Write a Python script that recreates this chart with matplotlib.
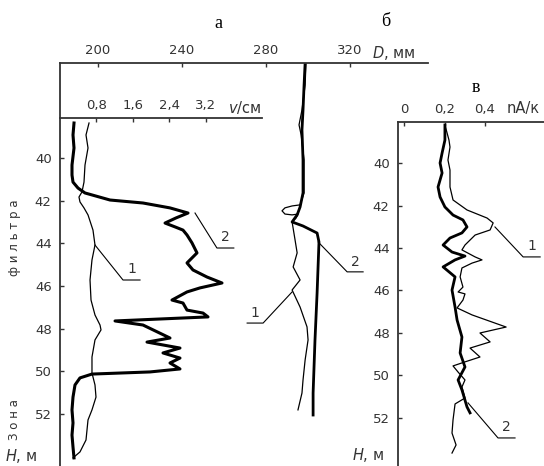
import numpy as np
import matplotlib
matplotlib.use("Agg")
import matplotlib.pyplot as plt

plt.rcParams['font.family'] = ['DejaVu Sans']

W, H = 544, 466

# ---- panel а : flow velocity v (thin = 1, thick = 2) ----
a1_v = [0.636, 0.570, 0.614, 0.548, 0.526, 0.482, 0.416, 0.438, 0.526, 0.614, 0.723, 0.767,
        0.701, 0.658, 0.680, 0.767, 0.877, 0.899, 0.767, 0.701, 0.701, 0.767, 0.789, 0.701,
        0.614, 0.570, 0.438, 0.285]
a1_h = [38.36, 38.92, 39.53, 40.33, 41.13, 41.59, 41.83, 42.06, 42.34, 42.67, 43.38, 44.08,
        44.78, 45.72, 46.66, 47.36, 47.83, 48.06, 48.53, 49.33, 50.08, 50.64, 51.21, 51.81,
        52.28, 53.22, 53.78, 54.06]
a2_v = [0.307, 0.285, 0.307, 0.263, 0.263, 0.285, 0.395, 0.548, 1.096, 1.819, 2.411, 2.806,
        2.543, 2.302, 2.521, 2.696, 2.784, 2.893, 3.003, 2.784, 2.915, 3.222, 3.551, 3.069,
        2.784, 2.455, 2.696, 2.784, 3.135, 3.244, 1.206, 1.819, 2.411, 1.907, 2.630, 2.258,
        2.630, 2.411, 2.630, 1.973, 0.701, 0.438, 0.329, 0.285, 0.263, 0.285, 0.263, 0.285, 0.307]
a2_h = [38.36, 38.92, 39.53, 40.33, 40.80, 41.13, 41.41, 41.64, 41.97, 42.11, 42.34, 42.58,
        42.81, 43.05, 43.23, 43.38, 43.61, 43.98, 44.45, 44.92, 45.25, 45.58, 45.86, 46.09,
        46.28, 46.66, 46.80, 47.13, 47.27, 47.45, 47.64, 47.83, 48.44, 48.63, 48.91, 49.14,
        49.38, 49.61, 49.89, 50.03, 50.13, 50.31, 50.64, 51.21, 51.81, 52.42, 52.99, 53.55, 54.06]

# ---- panel б : caliper D, мм ----
b1_d = [299.0, 298.6, 297.1, 295.7, 296.7, 298.1, 298.1, 296.2, 292.4, 289.0, 287.6, 289.0,
        292.4, 295.2, 294.3, 292.4, 293.8, 294.8, 292.9, 296.2, 292.4, 296.2, 299.5, 300.0,
        298.6, 297.6, 297.1, 295.2]
b1_h = [35.55, 36.58, 37.75, 38.45, 38.92, 40.09, 41.64, 42.20, 42.25, 42.34, 42.48, 42.63,
        42.67, 42.63, 42.81, 43.00, 43.84, 44.45, 45.11, 45.72, 46.19, 46.99, 47.92, 48.53,
        49.47, 50.41, 51.02, 51.81]
b2_d = [298.6, 298.1, 297.6, 297.1, 297.6, 297.6, 296.2, 294.8, 292.4, 297.6, 304.3, 305.2,
        304.3, 303.3, 302.4, 302.4]
b2_h = [35.55, 36.58, 37.75, 38.69, 40.09, 41.64, 42.30, 42.67, 43.00, 43.19, 43.52, 43.94,
        46.33, 48.53, 51.02, 52.05]

# ---- panel в : current ----
c1_i = [0.202, 0.222, 0.227, 0.217, 0.227, 0.227, 0.242, 0.311, 0.410, 0.440, 0.425, 0.351,
        0.301, 0.286, 0.351, 0.385, 0.336, 0.286, 0.277, 0.291, 0.267, 0.301, 0.291, 0.262,
        0.336, 0.504, 0.375, 0.425, 0.326, 0.375, 0.301, 0.242, 0.267, 0.301, 0.286, 0.301,
        0.252, 0.242, 0.237, 0.257, 0.237]
c1_h = [38.21, 38.92, 39.25, 39.86, 40.33, 41.13, 41.74, 42.21, 42.59, 42.82, 43.15, 43.39,
        43.86, 44.09, 44.42, 44.56, 44.71, 44.94, 45.36, 45.84, 46.07, 46.16, 46.45, 46.82,
        47.15, 47.72, 48.00, 48.42, 48.71, 49.13, 49.36, 49.55, 49.84, 50.21, 50.54, 51.06,
        51.34, 52.09, 52.71, 53.27, 53.65]
c2_i = [0.202, 0.202, 0.188, 0.178, 0.188, 0.168, 0.178, 0.202, 0.242, 0.291, 0.311, 0.286,
        0.227, 0.193, 0.237, 0.301, 0.252, 0.193, 0.252, 0.237, 0.252, 0.262, 0.286, 0.277,
        0.301, 0.267, 0.286, 0.311, 0.326]
c2_h = [38.21, 38.92, 39.53, 40.00, 40.47, 41.13, 41.60, 42.07, 42.45, 42.68, 43.01, 43.29,
        43.53, 43.86, 44.19, 44.38, 44.56, 44.89, 45.36, 45.98, 46.78, 47.39, 48.19, 48.94,
        49.60, 50.21, 50.68, 51.48, 51.76]

depth_ticks = [40, 42, 44, 46, 48, 50, 52]
d_ticks = [200, 240, 280, 320]
v_ticks = [0.8, 1.6, 2.4, 3.2]
v_labels = ["0,8", "1,6", "2,4", "3,2"]
i_ticks = [0, 0.2, 0.4]
i_labels = ["0", "0,2", "0,4"]

ink = '#333333'
fs = 9.5


def box(x0, y0, x1, y1):
    return [x0 / W, 1 - y1 / H, (x1 - x0) / W, (y1 - y0) / H]


def px(x, y):
    return x / W, 1 - y / H


def style(ax, left=True):
    for s in ['right', 'bottom']:
        ax.spines[s].set_visible(False)
    ax.spines['left'].set_visible(left)
    for s in ['top', 'left']:
        ax.spines[s].set_color(ink)
        ax.spines[s].set_linewidth(1.3)
    ax.patch.set_alpha(0)
    ax.xaxis.tick_top()
    ax.tick_params(axis='x', direction='in', length=3, width=1, colors=ink,
                   labelsize=fs, pad=4)
    ax.tick_params(axis='y', direction='in', length=3, width=1, colors=ink,
                   labelsize=fs, pad=6)


fig = plt.figure(figsize=(W / 100, H / 100), dpi=100)

# caliper axes (б) - also carries the main depth axis
axD = fig.add_axes(box(60, 63, 428, 466))
style(axD)
axD.set_xlim(181.9, 357.1)
axD.set_ylim(54.44, 35.55)
axD.set_xticks(d_ticks)
axD.set_yticks(depth_ticks)
axD.plot(b1_d, b1_h, color='black', lw=0.9)
axD.plot(b2_d, b2_h, color='black', lw=2.0)
# leaders б
axD.plot([304.8, 318.6, 326.2], [43.94, 45.34, 45.34], color='black', lw=0.8)
axD.text(322.4, 45.2, "2", fontsize=10, ha='center', va='bottom', color=ink)
axD.plot([292.4, 278.6, 271.0], [46.28, 47.74, 47.74], color='black', lw=0.8)
axD.text(274.8, 47.6, "1", fontsize=10, ha='center', va='bottom', color=ink)

# velocity axes (а)
axA = fig.add_axes(box(60, 118, 262, 466))
style(axA, left=False)
axA.set_xlim(0, 4.428)
axA.set_ylim(54.44, 38.125)
axA.set_xticks(v_ticks)
axA.set_xticklabels(v_labels)
axA.set_yticks([])
axA.plot(a1_v, a1_h, color='black', lw=0.9)
axA.plot(a2_v, a2_h, color='black', lw=2.2)
axA.plot([2.96, 3.44, 3.81], [42.58, 44.22, 44.22], color='black', lw=0.8)
axA.text(3.62, 44.05, "2", fontsize=10, ha='center', va='bottom', color=ink)
axA.plot([0.767, 1.381, 1.754], [44.08, 45.72, 45.72], color='black', lw=0.8)
axA.text(1.57, 45.55, "1", fontsize=10, ha='center', va='bottom', color=ink)

# current axes (в)
axC = fig.add_axes(box(398, 122, 544, 466))
style(axC)
axC.set_xlim(-0.0296, 0.691)
axC.set_ylim(54.26, 38.07)
axC.set_xticks(i_ticks)
axC.set_xticklabels(i_labels)
axC.set_yticks(depth_ticks)
axC.plot(c1_i, c1_h, color='black', lw=0.9)
axC.plot(c2_i, c2_h, color='black', lw=2.0)
axC.plot([0.449, 0.588, 0.672], [43.01, 44.42, 44.42], color='black', lw=0.8)
axC.text(0.63, 44.25, "1", fontsize=10, ha='center', va='bottom', color=ink)
axC.plot([0.316, 0.464, 0.548], [51.29, 52.94, 52.94], color='black', lw=0.8)
axC.text(0.506, 52.77, "2", fontsize=10, ha='center', va='bottom', color=ink)

# panel letters
serif = ['Liberation Serif', 'DejaVu Serif']
fig.text(*px(218, 23), "а", family=serif, fontsize=13, ha='center', va='center', color='black')
fig.text(*px(386, 22), "б", family=serif, fontsize=13, ha='center', va='center', color='black')
fig.text(*px(476, 87), "в", family=serif, fontsize=13, ha='center', va='center', color='black')

# axis titles
fig.text(*px(372, 53), "$D$, мм", fontsize=10.5, ha='left', va='center', color=ink)
fig.text(*px(228, 107), "$v$/см", fontsize=10.5, ha='left', va='center', color=ink)
fig.text(*px(507, 108), "nA/к", fontsize=10.5, ha='left', va='center', color=ink)
fig.text(*px(5, 456), "$H$, м", fontsize=10.5, ha='left', va='center', color=ink)
fig.text(*px(352, 455), "$H$, м", fontsize=10.5, ha='left', va='center', color=ink)
fig.text(*px(15, 238), "ф и л ь т р а", fontsize=8.5, rotation=90, ha='center', va='center', color=ink)
fig.text(*px(15, 420), "З о н а", fontsize=8.5, rotation=90, ha='center', va='center', color=ink)

fig.savefig("out.png", dpi=100)
